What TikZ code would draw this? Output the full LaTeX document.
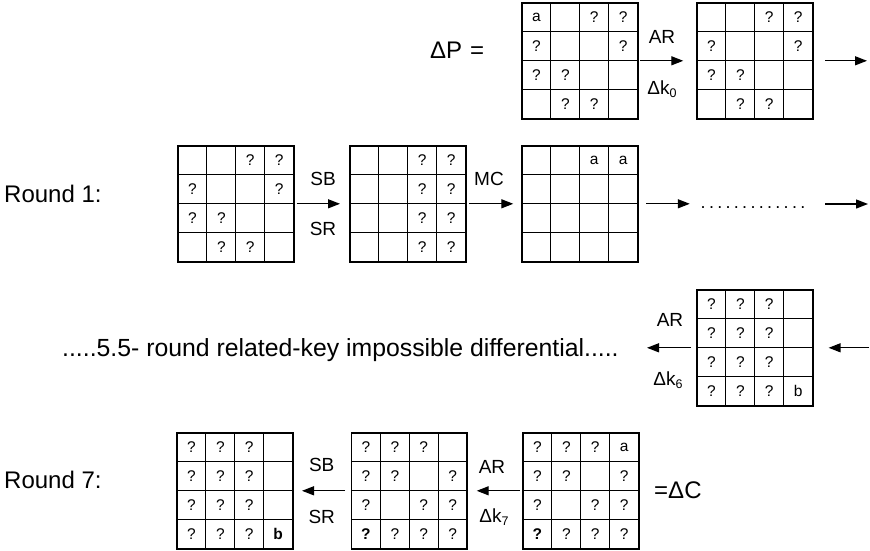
\documentclass[tikz,border=0pt]{standalone}
\usepackage{fontspec}
\setmainfont{Liberation Sans}
\usetikzlibrary{arrows.meta,calc}

\tikzset{
  gridframe/.style={draw, line width=1.9pt, minimum width=115.6pt, minimum height=115.6pt,
                    inner sep=0pt, outer sep=0pt, anchor=north west},
  cellline/.style={line width=1.15pt},
  celltext/.style={font=\fontsize{15.5}{17}\selectfont, inner sep=0pt},
  oplabel/.style={font=\fontsize{19}{21}\selectfont, inner sep=0pt, anchor=base},
  biglabel/.style={font=\fontsize{24}{28}\selectfont, inner sep=0pt, anchor=base west},
  flow/.style={line width=1.3pt, -{Triangle[length=12pt,width=9pt]}},
}

% subscripted key difference
\newcommand\keydiff[1]{Δk{\fontsize{12.5}{12.5}\selectfont\raisebox{-3.5pt}{#1}}}

% 4x4 state: #1 name, #2 top-left corner, #3 sixteen cell entries (row by row)
\newcommand\stategrid[3]{%
  \node[gridframe] (#1) at (#2) {};
  \foreach \i in {1,2,3}{
    \draw[cellline] ($(#1.north west)+(\i*28.9,0)$) -- ($(#1.south west)+(\i*28.9,0)$);
    \draw[cellline] ($(#1.north west)+(0,\i*28.9)$) -- ($(#1.north east)+(0,\i*28.9)$);
  }
  \foreach \t [count=\k from 0] in {#3}{
    \pgfmathtruncatemacro\r{div(\k,4)}
    \pgfmathtruncatemacro\c{mod(\k,4)}
    \node[celltext] (#1-\r-\c) at ($(#1.north west)+(\c*28.9+14.45,\r*28.9+14.2)$) {\t};
  }
}

\begin{document}
\begin{tikzpicture}[x=1pt,y=-1pt]
\useasboundingbox (0,0) rectangle (870,551);

% ---- plaintext difference and first key addition
\node[biglabel] (dp) at (430,58.4) {ΔP\hspace{8pt}=};
\stategrid{p0}{522,3}{{a},{},{?},{?},{?},{},{},{?},{?},{?},{},{},{},{?},{?},{}}
\stategrid{p1}{697,3}{{},{},{?},{?},{?},{},{},{?},{?},{?},{},{},{},{?},{?},{}}
\draw[flow] ([xshift=2.4pt]p0.east) -- ([xshift=-13.7pt]p1.west);
\node[oplabel] (ar0) at (662,43.3) {AR};
\node[oplabel] (dk0) at (662,94) {\keydiff{0}};
\coordinate (e0) at (867,60.8);
\draw[flow] ([xshift=12.4pt]p1.east) -- (e0);

% ---- round 1
\node[biglabel] (r1) at (4,202.7) {Round 1:};
\stategrid{s0}{178,146}{{},{},{?},{?},{?},{},{},{?},{?},{?},{},{},{},{?},{?},{}}
\stategrid{s1}{350,146}{{},{},{?},{?},{},{},{?},{?},{},{},{?},{?},{},{},{?},{?}}
\stategrid{s2}{522,146}{{},{},{a},{a},{},{},{},{},{},{},{},{},{},{},{},{}}
\draw[flow] ([xshift=3pt]s0.east) -- ([xshift=-10pt]s1.west);
\node[oplabel] (sb1) at (323,185) {SB};
\node[oplabel] (sr1) at (323,235) {SR};
\draw[flow] ([xshift=3.4pt]s1.east) -- ([xshift=-8.7pt]s2.west);
\node[oplabel] (mc1) at (489,185) {MC};
\node[font=\fontsize{18}{20}\selectfont, inner sep=0pt, anchor=base] (dots) at (753,208)
  {.\kern3.3pt.\kern3.3pt.\kern3.3pt.\kern3.3pt.\kern3.3pt.\kern3.3pt.\kern3.3pt.\kern3.3pt.\kern3.3pt.\kern3.3pt.\kern3.3pt.\kern3.3pt.};
\draw[flow] ([xshift=8.4pt]s2.east) -- ([xshift=-10.7pt]dots.west |- s2.east);
\coordinate (e1) at (868,204);
\draw[flow] ([xshift=19.7pt]dots.east |- e1) -- (e1);

% ---- distinguisher and last-but-one key addition
\node[biglabel, font=\fontsize{24.8}{28}\selectfont] (rk) at (62,356.7)
  {.....5.5- round related-key impossible differential.....};
\stategrid{q}{697,290}{{?},{?},{?},{},{?},{?},{?},{},{?},{?},{?},{},{?},{?},{?},{b}}
\coordinate (w2) at (647,347.8);
\draw[flow] ([xshift=-6pt]q.west) -- (w2);
\node[oplabel] (ar6) at (670,326.7) {AR};
\node[oplabel] (dk6) at (668,385) {\keydiff{6}};
\coordinate (e2) at (869,347.8);
\draw[flow] (e2) -- ([xshift=16pt]q.east);

% ---- round 7
\node[biglabel] (r7) at (4,488) {Round 7:};
\stategrid{t0}{177,433}{{?},{?},{?},{},{?},{?},{?},{},{?},{?},{?},{},{?},{?},{?},{\textbf{b}}}
\stategrid{t1}{351.5,433}{{?},{?},{?},{},{?},{?},{},{?},{?},{},{?},{?},{\textbf{?}},{?},{?},{?}}
\stategrid{t2}{523,433}{{?},{?},{?},{a},{?},{?},{},{?},{?},{},{?},{?},{\textbf{?}},{?},{?},{?}}
\draw[flow] ([xshift=-6.5pt]t1.west) -- ([xshift=9.4pt]t0.east);
\node[oplabel] (sb7) at (321.7,471.7) {SB};
\node[oplabel] (sr7) at (321.7,523) {SR};
\draw[flow] ([xshift=-3pt]t2.west) -- ([xshift=9.6pt]t1.east);
\node[oplabel] (ar7) at (492,473.3) {AR};
\node[oplabel] (dk7) at (494,522) {\keydiff{7}};
\node[biglabel] (dc) at (654,498) {=ΔC};
\end{tikzpicture}
\end{document}
